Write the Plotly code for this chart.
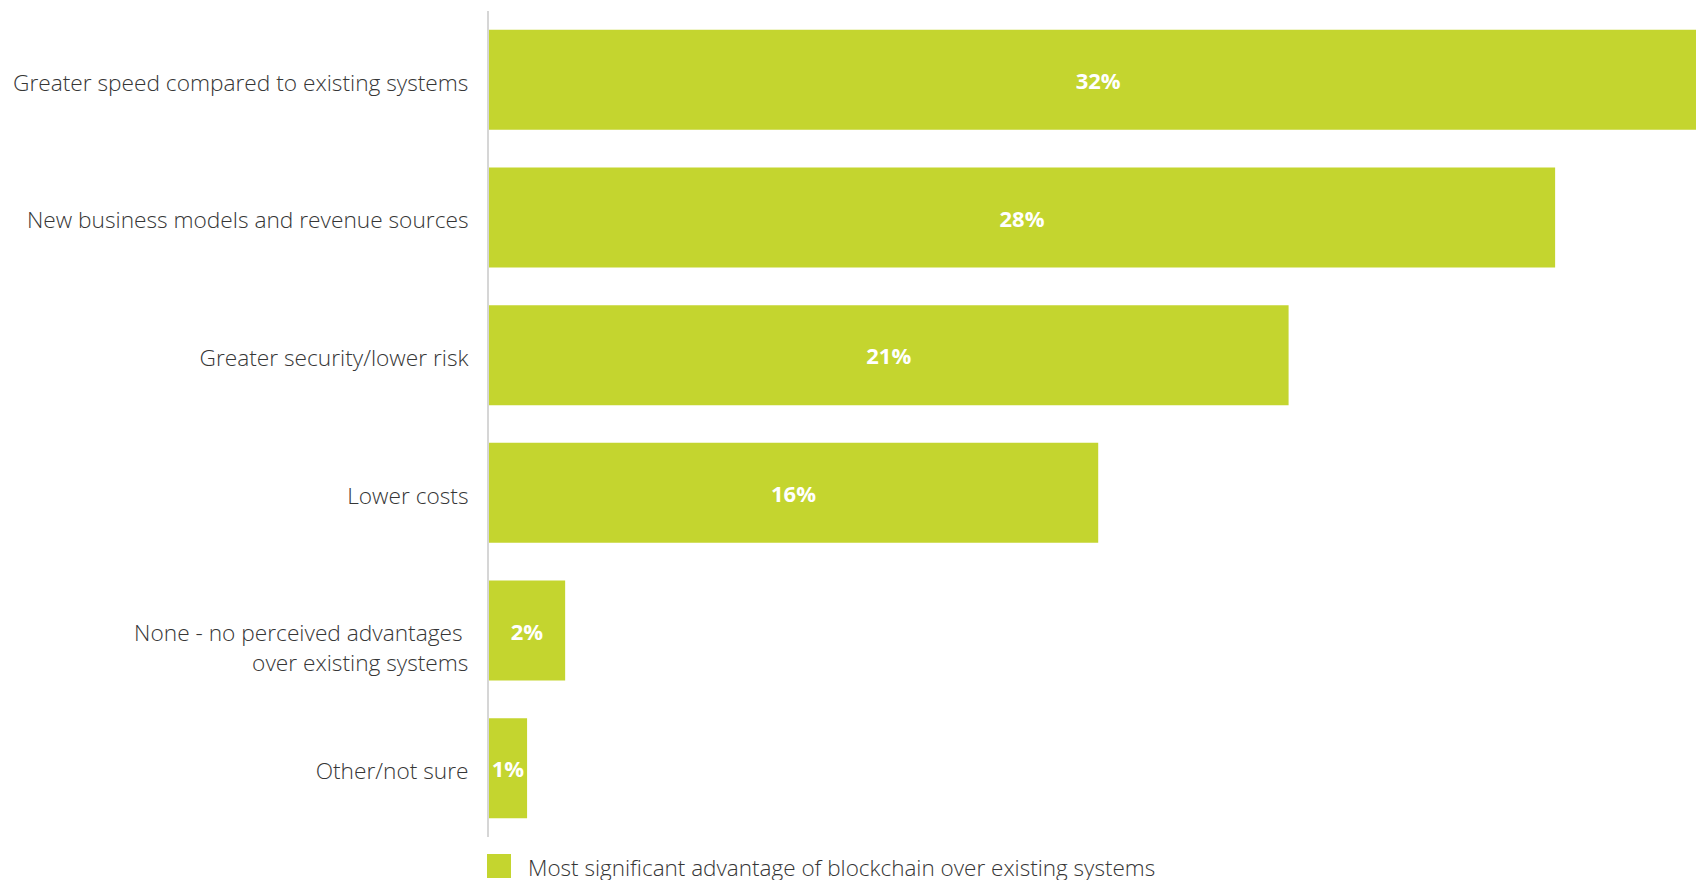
import plotly.graph_objects as go

categories = [
    "Greater speed compared to existing systems",
    "New business models and revenue sources",
    "Greater security/lower risk",
    "Lower costs",
    "None - no perceived advantages over existing systems",
    "Other/not sure",
]
tick_labels = [
    "Greater speed compared to existing systems",
    "New business models and revenue sources",
    "Greater security/lower risk",
    "Lower costs",
    "<br>None - no perceived advantages <br>over existing systems",
    "Other/not sure",
]
values = [32, 28, 21, 16, 2, 1]
series_name = "Most significant advantage of blockchain over existing systems"

BAR_COLOR = "#C4D52F"
TEXT_COLOR = "#363636"
FONT = "Open Sans, Noto Sans, sans-serif"

W, H = 1696, 880
ML, MR, MT, MB = 489, 0, 11, 43
plot_w = W - ML - MR
plot_h = H - MT - MB

fig = go.Figure()
fig.add_trace(go.Bar(
    y=categories,
    x=values,
    orientation="h",
    marker=dict(color=BAR_COLOR, line=dict(width=0)),
    texttemplate="%{x}%",
    textposition="inside",
    insidetextanchor="middle",
    textangle=0,
    constraintext="none",
    textfont=dict(family=FONT, size=22, color="white", weight=700),
    name=series_name,
    showlegend=False,
    hoverinfo="skip",
))

# legend swatch + label (positions in figure pixels converted to paper coords)
def px_x(px):
    return (px - ML) / plot_w

def px_y(py):
    return (H - MB - py) / plot_h

fig.add_shape(type="rect", xref="paper", yref="paper",
              x0=px_x(487), x1=px_x(511), y0=px_y(878), y1=px_y(854),
              fillcolor=BAR_COLOR, line=dict(width=0))
fig.add_annotation(xref="paper", yref="paper", x=px_x(526), y=px_y(867),
                   xanchor="left", yanchor="middle", showarrow=False,
                   text=series_name,
                   font=dict(family=FONT, size=22.5, color=TEXT_COLOR, weight=300))

fig.update_layout(
    width=W, height=H,
    margin=dict(l=ML, r=MR, t=MT, b=MB, pad=0),
    paper_bgcolor="white", plot_bgcolor="white",
    bargap=0.274,
    showlegend=False,
    xaxis=dict(range=[0, 31.7], visible=False, fixedrange=True),
    yaxis=dict(
        autorange="reversed",
        tickmode="array", tickvals=categories, ticktext=tick_labels,
        showline=True, linecolor="#D6D6D6", linewidth=2,
        layer="below traces",
        showgrid=False, zeroline=False, ticks="",
        ticklabelstandoff=14,
        ticklabelshift=-3,
        tickfont=dict(family=FONT, size=22.7, color=TEXT_COLOR, weight=300),
        fixedrange=True,
    ),
)

fig.write_html(
    "out.html",
    config={"displayModeBar": False},
    post_script="document.body.style.margin='0';document.body.style.overflow='hidden';",
)
